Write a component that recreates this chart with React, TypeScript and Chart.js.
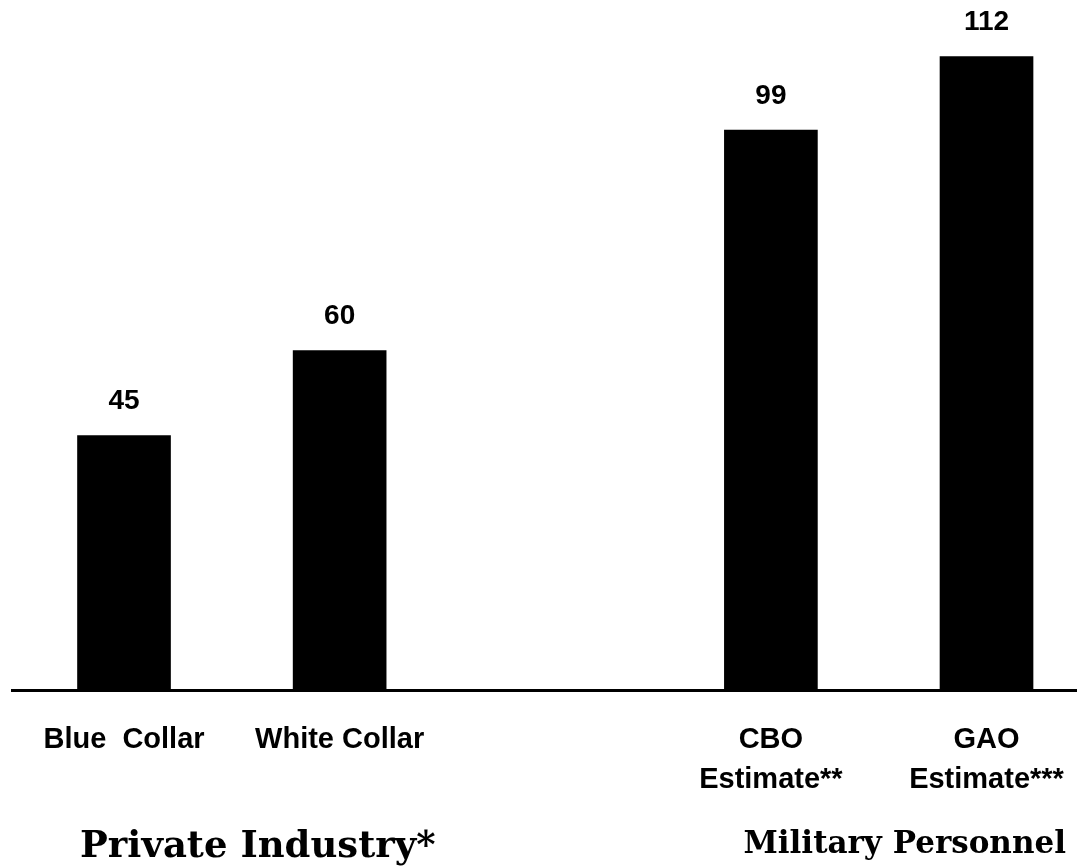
import React, { useEffect, useRef } from "react";
import { Chart, registerables } from "chart.js";

Chart.register(...registerables);

// Data
const categories: (string | string[])[] = [
  "Blue  Collar",
  "White Collar",
  ["CBO", "Estimate**"],
  ["GAO", "Estimate***"],
];
const slots = [0, 1, 3, 4]; // index slots (slot 2 is the empty gap between groups)
const values = [45, 60, 99, 112];
const valueLabels = ["45", "60", "99", "112"];
const groupNames = ["Private Industry*", "Military Personnel"];
const categoryGroup = [0, 0, 1, 1];
const groupFontSizes = [37, 31];

const SANS = "'Liberation Sans', Arial, sans-serif";
const SERIF = "'DejaVu Serif', 'Liberation Serif', serif";

const labelsPlugin = {
  id: "customLabels",
  afterDatasetsDraw(chart: any) {
    const { ctx } = chart;
    const meta = chart.getDatasetMeta(0);
    ctx.save();
    ctx.fillStyle = "#000";
    ctx.font = `bold 28px ${SANS}`;
    ctx.textAlign = "center";
    ctx.textBaseline = "bottom";
    meta.data.forEach((bar: any, i: number) => {
      ctx.fillText(valueLabels[i], bar.x, bar.y - 20);
    });
    // group labels
    const xs = chart.scales.x;
    ctx.textBaseline = "alphabetic";
    groupNames.forEach((name, g) => {
      const members = slots.filter((_, i) => categoryGroup[i] === g);
      const mean = members.reduce((a, b) => a + b, 0) / members.length;
      const px = xs.getPixelForValue(mean);
      ctx.font = `bold ${groupFontSizes[g]}px ${SERIF}`;
      ctx.fillText(name, px + 26, chart.height - 9 - g * 4);
    });
    ctx.restore();
  },
};

export default function App() {
  const ref = useRef<HTMLCanvasElement | null>(null);
  useEffect(() => {
    if (!ref.current) return;
    const chart = new Chart(ref.current, {
      type: "bar",
      data: {
        datasets: [
          {
            data: slots.map((s, i) => ({ x: s, y: values[i] })),
            backgroundColor: "#000",
            borderWidth: 0,
            barThickness: 93,
          },
        ],
      },
      options: {
        animation: false,
        responsive: false,
        maintainAspectRatio: false,
        layout: { padding: { left: 12, right: 10, top: 0, bottom: 64 } },
        plugins: {
          legend: { display: false },
          tooltip: { enabled: false },
        },
        scales: {
          x: {
            type: "linear",
            offset: false,
            bounds: "data",
            min: -0.5195,
            max: 4.415,
            grid: { display: false, drawTicks: true, tickLength: 28, offset: false },
            border: { display: true, color: "#000", width: 3 },
            afterBuildTicks: (scale: any) => {
              scale.ticks = slots.map((v) => ({ value: v }));
            },
            ticks: {
              autoSkip: false,
              maxRotation: 0,
              minRotation: 0,
              padding: 2,
              color: "#000",
              font: { family: SANS, size: 29, weight: "bold", lineHeight: "40px" } as any,
              callback: (value: any) => {
                const idx = slots.indexOf(Number(value));
                return idx >= 0 ? (categories[idx] as any) : "";
              },
            },
          },
          y: {
            display: false,
            min: 0,
            max: 122,
          },
        },
      },
      plugins: [labelsPlugin],
    });
    return () => chart.destroy();
  }, []);
  return (
    <div style={{ position: "fixed", left: 0, top: 0, width: 1086, height: 866, background: "#fff" }}>
      <canvas ref={ref} width={1086} height={866} style={{ width: 1086, height: 866 }} />
    </div>
  );
}
